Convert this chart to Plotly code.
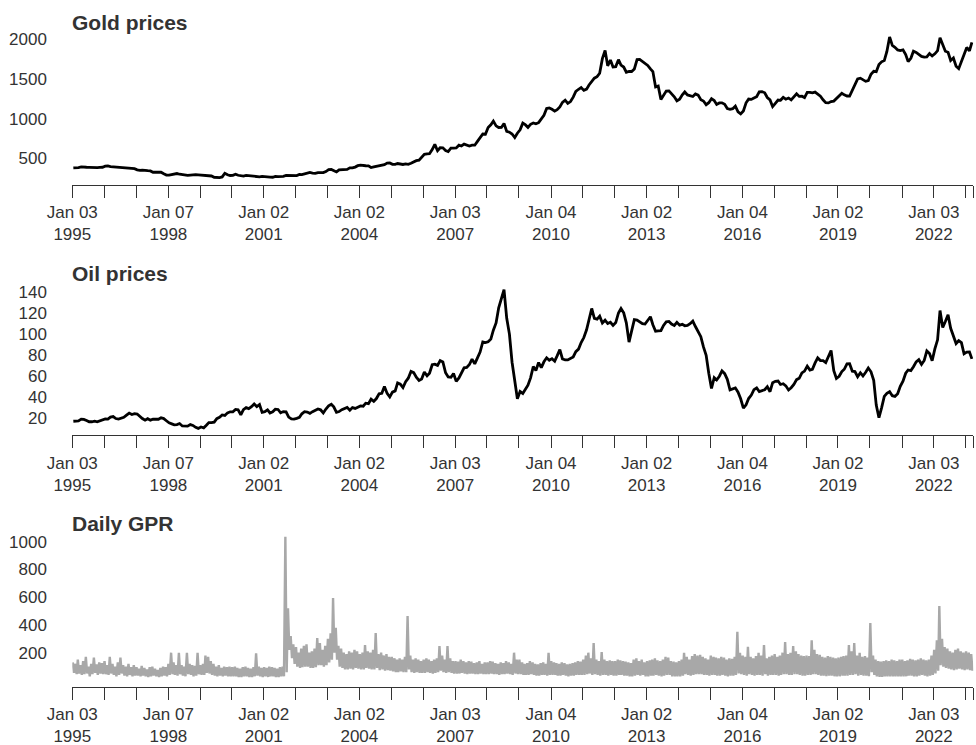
import pandas as pd
import plotly.graph_objects as go

# ---------------------------------------------------------------------------
# Monthly series, Jan 1995 - Mar 2023
# ---------------------------------------------------------------------------
start_month = "1995-01-01"

gold = [
    379, 377, 382, 391, 385, 387, 386, 383, 383, 383, 386, 387,   # 1995
    400, 405, 396, 393, 392, 385, 383, 387, 383, 381, 378, 369,   # 1996
    355, 347, 352, 344, 344, 341, 324, 324, 323, 325, 306, 289,   # 1997
    289, 297, 296, 308, 299, 292, 293, 284, 289, 296, 294, 291,   # 1998
    287, 288, 286, 282, 277, 261, 256, 257, 265, 311, 293, 283,   # 1999
    285, 300, 286, 280, 275, 285, 282, 274, 273, 270, 266, 272,   # 2000
    266, 262, 263, 261, 272, 270, 268, 273, 283, 283, 276, 276,   # 2001
    282, 296, 294, 303, 314, 322, 314, 310, 319, 317, 319, 333,   # 2002
    357, 359, 340, 328, 355, 356, 351, 360, 379, 379, 389, 407,   # 2003
    414, 405, 406, 404, 384, 392, 398, 400, 406, 420, 439, 442,   # 2004
    424, 424, 434, 429, 422, 430, 424, 437, 456, 470, 476, 510,   # 2005
    549, 555, 557, 610, 676, 596, 633, 632, 598, 585, 627, 629,   # 2006
    631, 665, 655, 679, 667, 655, 665, 665, 713, 754, 806, 803,   # 2007
    889, 922, 968, 909, 888, 889, 939, 839, 829, 806, 761, 816,   # 2008
    858, 943, 924, 890, 928, 946, 934, 949, 996, 1043, 1127, 1135,  # 2009
    1118, 1095, 1113, 1148, 1205, 1233, 1193, 1215, 1271, 1343, 1370, 1391,  # 2010
    1356, 1372, 1424, 1473, 1510, 1529, 1572, 1756, 1860, 1665, 1739, 1652,  # 2011
    1656, 1743, 1674, 1650, 1585, 1596, 1594, 1626, 1744, 1747, 1721, 1688,  # 2012
    1671, 1627, 1593, 1400, 1410, 1240, 1286, 1347, 1349, 1316, 1275, 1225,  # 2013
    1244, 1300, 1336, 1299, 1287, 1279, 1311, 1296, 1239, 1222, 1176, 1201,  # 2014
    1251, 1227, 1179, 1198, 1199, 1181, 1128, 1117, 1125, 1157, 1086, 1060,  # 2015
    1097, 1200, 1246, 1242, 1260, 1276, 1337, 1341, 1326, 1266, 1236, 1151,  # 2016
    1192, 1234, 1231, 1267, 1245, 1260, 1236, 1283, 1314, 1280, 1283, 1265,  # 2017
    1331, 1331, 1325, 1334, 1303, 1282, 1238, 1202, 1198, 1215, 1221, 1250,  # 2018
    1291, 1320, 1300, 1285, 1284, 1359, 1413, 1500, 1510, 1495, 1470, 1480,  # 2019
    1560, 1597, 1591, 1683, 1716, 1732, 1847, 2030, 1922, 1900, 1866, 1858,  # 2020
    1867, 1808, 1718, 1760, 1850, 1834, 1807, 1785, 1776, 1777, 1821, 1790,  # 2021
    1817, 1856, 2020, 1937, 1849, 1837, 1733, 1764, 1660, 1630, 1726, 1798,  # 2022
    1898, 1855, 1960,                                                        # 2023
]

oil = [
    16.6, 17.0, 17.0, 18.6, 18.4, 17.3, 16.1, 16.1, 16.6, 16.0, 17.0, 17.9,   # 1995
    18.9, 18.6, 20.5, 21.1, 19.2, 18.6, 19.7, 20.3, 22.4, 24.4, 23.0, 23.8,   # 1996
    23.5, 20.9, 19.2, 17.6, 19.0, 17.6, 18.5, 18.6, 18.5, 19.9, 19.1, 17.1,   # 1997
    15.1, 14.1, 13.2, 13.4, 14.4, 12.1, 12.0, 11.9, 13.4, 12.6, 10.8, 9.8,    # 1998
    11.1, 10.3, 12.5, 15.3, 15.3, 15.7, 19.1, 20.3, 22.6, 22.1, 24.6, 25.6,   # 1999
    25.5, 27.8, 27.5, 22.8, 27.6, 29.6, 28.6, 30.4, 33.1, 30.6, 32.5, 25.0,   # 2000
    25.7, 27.4, 24.5, 25.6, 28.1, 27.8, 24.6, 25.8, 25.6, 20.5, 18.8, 18.7,   # 2001
    19.4, 20.3, 23.7, 25.7, 25.4, 24.1, 25.7, 26.7, 28.3, 27.5, 24.5, 28.2,   # 2002
    31.2, 32.8, 30.3, 25.0, 25.8, 27.6, 28.4, 29.8, 27.1, 29.6, 28.8, 29.8,   # 2003
    31.2, 30.9, 33.8, 33.4, 37.6, 35.5, 38.2, 42.7, 43.2, 49.8, 43.1, 39.7,   # 2004
    44.3, 45.5, 53.1, 51.9, 48.7, 54.3, 57.6, 64.1, 62.9, 58.5, 55.5, 56.8,   # 2005
    63.5, 59.9, 62.3, 70.4, 70.9, 69.8, 74.4, 73.0, 62.8, 58.7, 58.5, 62.0,   # 2006
    54.6, 57.8, 62.4, 67.5, 67.9, 70.6, 75.8, 71.2, 77.0, 82.5, 92.1, 91.5,   # 2007
    92.2, 94.8, 103.3, 110.2, 124.6, 133.5, 142.0, 114.6, 99.6, 72.8, 53.2, 38.0,  # 2008
    44.9, 43.1, 46.8, 50.9, 57.9, 68.6, 64.9, 72.5, 67.7, 73.2, 77.0, 74.7,   # 2009
    76.2, 73.8, 78.8, 84.8, 75.9, 75.0, 75.0, 76.7, 77.8, 82.9, 85.3, 91.5,   # 2010
    96.3, 103.7, 114.6, 124.0, 114.5, 113.9, 116.7, 110.1, 112.8, 109.6, 110.8, 107.9,  # 2011
    110.6, 119.7, 124.0, 119.8, 110.3, 92.0, 102.6, 113.4, 113.0, 111.5, 109.5, 109.2,  # 2012
    112.3, 116.1, 108.5, 102.3, 102.6, 102.9, 107.9, 111.3, 111.6, 109.1, 107.8, 110.8,  # 2013
    108.1, 108.9, 107.5, 107.8, 109.5, 111.9, 106.8, 101.6, 97.1, 87.4, 79.4, 62.3,   # 2014
    47.8, 58.1, 55.9, 59.5, 64.6, 61.9, 56.5, 46.5, 47.6, 48.4, 44.3, 38.0,   # 2015
    29.0, 32.2, 38.2, 41.6, 46.7, 48.3, 44.9, 45.8, 46.6, 49.5, 44.7, 53.3,   # 2016
    54.6, 54.9, 51.6, 52.3, 50.3, 46.4, 48.5, 51.7, 56.2, 57.5, 62.7, 64.4,   # 2017
    69.1, 65.3, 66.0, 72.1, 76.9, 74.4, 74.3, 72.5, 78.9, 84.0, 64.8, 57.4,   # 2018
    59.4, 63.9, 66.1, 71.2, 71.3, 64.2, 63.9, 59.0, 62.8, 59.7, 63.2, 67.3,   # 2019
    63.7, 55.5, 32.0, 20.0, 29.4, 40.3, 43.2, 44.7, 40.9, 40.2, 42.7, 49.9,   # 2020
    54.8, 62.3, 65.4, 64.8, 68.5, 73.2, 75.2, 70.8, 74.5, 83.5, 81.0, 74.2,   # 2021
    85.5, 94.1, 122.0, 105.8, 111.6, 118.0, 105.1, 97.7, 90.6, 93.3, 91.4, 80.9,  # 2022
    82.5, 82.6, 76.0,                                                         # 2023
]

# Daily GPR index summarised per month as (high, low) of the daily readings
gpr_high = [
    130, 120, 150, 110, 140, 170, 100, 120, 165, 115, 130, 125,   # 1995
    140, 110, 170, 120, 100, 130, 165, 110, 100, 120, 95, 110,    # 1996
    95, 85, 105, 90, 80, 95, 100, 85, 75, 90, 100, 95,            # 1997
    120, 200, 130, 110, 200, 110, 100, 200, 120, 110, 105, 200,   # 1998
    110, 120, 180, 170, 140, 120, 100, 110, 90, 100, 95, 100,     # 1999
    95, 100, 90, 85, 95, 100, 90, 85, 95, 195, 100, 90,           # 2000
    95, 90, 100, 95, 90, 85, 95, 100, 1035, 520, 320, 260,        # 2001
    240, 200, 230, 250, 260, 200, 210, 230, 306, 270, 220, 250,   # 2002
    300, 340, 594, 380, 250, 230, 200, 190, 210, 200, 220, 210,   # 2003
    190, 200, 255, 210, 200, 220, 342, 190, 200, 180, 190, 170,   # 2004
    170, 160, 150, 160, 150, 170, 464, 180, 150, 160, 150, 140,   # 2005
    150, 160, 150, 140, 150, 160, 248, 180, 150, 248, 160, 140,   # 2006
    140, 135, 150, 140, 130, 140, 135, 125, 130, 140, 120, 130,   # 2007
    130, 140, 135, 125, 120, 130, 125, 140, 130, 120, 200, 150,   # 2008
    150, 130, 120, 125, 140, 130, 120, 115, 125, 130, 120, 200,   # 2009
    140, 130, 125, 120, 130, 125, 115, 120, 125, 130, 140, 135,   # 2010
    150, 180, 200, 160, 270, 150, 140, 205, 150, 140, 145, 140,   # 2011
    140, 150, 145, 140, 135, 130, 125, 150, 160, 140, 150, 130,   # 2012
    140, 145, 150, 160, 145, 140, 150, 170, 165, 140, 135, 130,   # 2013
    140, 150, 200, 170, 150, 175, 190, 180, 185, 170, 160, 150,   # 2014
    180, 170, 165, 160, 170, 165, 150, 160, 155, 170, 351, 200,   # 2015
    180, 170, 243, 170, 160, 175, 200, 180, 255, 160, 170, 180,   # 2016
    190, 170, 180, 200, 277, 190, 200, 248, 210, 190, 180, 175,   # 2017
    180, 175, 290, 220, 190, 185, 170, 165, 175, 170, 165, 160,   # 2018
    165, 170, 175, 180, 255, 210, 270, 180, 200, 170, 175, 165,   # 2019
    413, 180, 150, 140, 135, 140, 145, 140, 150, 145, 140, 150,   # 2020
    150, 140, 145, 155, 150, 145, 150, 160, 150, 145, 150, 180,   # 2021
    220, 290, 536, 300, 240, 230, 210, 200, 220, 230, 210, 200,   # 2022
    210, 200, 190,                                                # 2023
]

gpr_low = [
    55, 45, 50, 40, 45, 50, 30, 45, 55, 40, 50, 45,               # 1995
    45, 40, 50, 40, 30, 40, 50, 35, 30, 40, 30, 35,               # 1996
    35, 30, 35, 30, 25, 30, 35, 30, 25, 30, 35, 30,               # 1997
    40, 45, 40, 35, 45, 35, 30, 45, 40, 30, 35, 45,               # 1998
    40, 40, 55, 50, 40, 35, 30, 35, 30, 35, 30, 30,               # 1999
    30, 30, 25, 25, 30, 30, 25, 25, 30, 35, 30, 25,               # 2000
    30, 25, 30, 30, 25, 25, 30, 30, 60, 220, 160, 120,            # 2001
    100, 90, 95, 100, 100, 90, 90, 95, 110, 110, 100, 110,        # 2002
    130, 150, 200, 150, 100, 90, 80, 80, 85, 80, 90, 85,          # 2003
    80, 80, 90, 85, 80, 80, 90, 75, 80, 70, 75, 70,               # 2004
    65, 60, 60, 65, 60, 60, 80, 60, 55, 60, 55, 55,               # 2005
    55, 60, 55, 50, 55, 60, 70, 60, 55, 60, 55, 50,               # 2006
    50, 50, 55, 50, 45, 50, 50, 45, 45, 50, 45, 45,               # 2007
    45, 50, 45, 45, 40, 45, 45, 50, 45, 40, 50, 45,               # 2008
    45, 40, 40, 40, 45, 40, 35, 35, 40, 40, 35, 40,               # 2009
    40, 40, 35, 35, 40, 35, 30, 35, 35, 40, 40, 40,               # 2010
    40, 45, 50, 40, 45, 40, 35, 40, 40, 35, 40, 35,               # 2011
    35, 40, 40, 35, 35, 30, 30, 35, 40, 35, 40, 30,               # 2012
    30, 35, 35, 40, 35, 30, 35, 40, 40, 30, 30, 30,               # 2013
    30, 35, 45, 40, 35, 40, 45, 45, 45, 40, 40, 35,               # 2014
    40, 40, 35, 35, 40, 35, 30, 35, 35, 40, 50, 45,               # 2015
    40, 35, 45, 40, 35, 40, 40, 35, 45, 35, 40, 40,               # 2016
    40, 35, 40, 45, 45, 40, 40, 45, 45, 40, 35, 35,               # 2017
    40, 40, 45, 45, 40, 35, 35, 30, 35, 35, 30, 30,               # 2018
    30, 35, 35, 35, 40, 40, 45, 35, 40, 35, 35, 30,               # 2019
    60, 40, 30, 25, 25, 30, 30, 30, 30, 30, 30, 30,               # 2020
    30, 30, 35, 35, 30, 30, 35, 40, 35, 30, 35, 40,               # 2021
    50, 70, 110, 100, 90, 85, 80, 75, 80, 85, 80, 75,             # 2022
    80, 75, 70,                                                   # 2023
]

# Year ticks (first trading day of each year) and the last observation
tick_dates = [
    "1995-01-03", "1996-01-02", "1997-01-02", "1998-01-07", "1999-01-04",
    "2000-01-04", "2001-01-02", "2002-01-02", "2003-01-02", "2004-01-02",
    "2005-01-03", "2006-01-03", "2007-01-03", "2008-01-02", "2009-01-02",
    "2010-01-04", "2011-01-03", "2012-01-03", "2013-01-02", "2014-01-02",
    "2015-01-02", "2016-01-04", "2017-01-03", "2018-01-02", "2019-01-02",
    "2020-01-02", "2021-01-04", "2022-01-03", "2023-01-03", "2023-03-31",
]
tick_labels = [
    "Jan 03<br>1995", "", "", "Jan 07<br>1998", "",
    "", "Jan 02<br>2001", "", "", "Jan 02<br>2004",
    "", "", "Jan 03<br>2007", "", "",
    "Jan 04<br>2010", "", "", "Jan 02<br>2013", "",
    "", "Jan 04<br>2016", "", "", "Jan 02<br>2019",
    "", "", "Jan 03<br>2022", "", "",
]

gold_ticks = [500, 1000, 1500, 2000]
oil_ticks = [20, 40, 60, 80, 100, 120, 140]
gpr_ticks = [200, 400, 600, 800, 1000]

panel_titles = ["Gold prices", "Oil prices", "Daily GPR"]

# ---------------------------------------------------------------------------
n_months = len(gold)
month_starts = pd.date_range(start_month, periods=n_months, freq="MS")
mid_month = month_starts + pd.Timedelta(days=14)

# GPR drawn as daily-like swings: high early in the month, low later on
gpr_x, gpr_y = [], []
for m, hi, lo in zip(month_starts, gpr_high, gpr_low):
    gpr_x += [m + pd.Timedelta(days=6), m + pd.Timedelta(days=21)]
    gpr_y += [hi, lo]

W, H = 976, 745
FONT = "Liberation Sans, Arial, Helvetica, sans-serif"
TXT = "#333333"
x_start, x_end = "1995-01-03", "2023-03-31"
x_dom = [72.3 / W, 973.3 / W]

# (top px, bottom px, y range) for each panel
panels = [
    (30, 184.5, [169.7, 2117.0], gold_ticks),
    (280, 435.0, [3.5, 151.1], oil_ticks),
    (530, 686.7, [-45.0, 1084.3], gpr_ticks),
]
title_y = [22, 273, 523]

fig = go.Figure()
fig.add_trace(go.Scatter(x=mid_month, y=gold, mode="lines",
                         line=dict(color="black", width=2.8), xaxis="x", yaxis="y"))
fig.add_trace(go.Scatter(x=mid_month, y=oil, mode="lines",
                         line=dict(color="black", width=2.8), xaxis="x2", yaxis="y2"))
fig.add_trace(go.Scatter(x=gpr_x, y=gpr_y, mode="lines",
                         line=dict(color="#a8a8a8", width=2.4), xaxis="x3", yaxis="y3"))

layout = dict(
    width=W, height=H, margin=dict(l=0, r=0, t=0, b=0, autoexpand=False),
    paper_bgcolor="white", plot_bgcolor="white", showlegend=False,
    font=dict(family=FONT, color=TXT, size=17),
)
annotations = []
for i, (top, bot, yr, yt) in enumerate(panels):
    sfx = "" if i == 0 else str(i + 1)
    layout["xaxis" + sfx] = dict(
        domain=x_dom, range=[x_start, x_end], type="date", automargin=False,
        anchor="y" + sfx, showline=True, linecolor=TXT, linewidth=1.3,
        ticks="outside", ticklen=12, tickwidth=1.3, tickcolor=TXT,
        tickmode="array", tickvals=tick_dates, ticktext=tick_labels,
        tickfont=dict(family=FONT, size=17, color=TXT),
        showgrid=False, zeroline=False, fixedrange=True,
    )
    layout["yaxis" + sfx] = dict(
        domain=[1 - bot / H, 1 - top / H], range=yr, automargin=False,
        anchor="x" + sfx, showline=False, showgrid=False, zeroline=False,
        ticks="outside", ticklen=21, tickcolor="rgba(0,0,0,0)",
        tickmode="array", tickvals=yt,
        tickfont=dict(family=FONT, size=17, color=TXT),
    )
    annotations.append(dict(
        text="<b>" + panel_titles[i] + "</b>", xref="paper", yref="paper",
        x=70 / W, y=1 - title_y[i] / H, xanchor="left", yanchor="middle",
        showarrow=False, font=dict(family=FONT, size=21, color=TXT),
    ))
layout["annotations"] = annotations
fig.update_layout(**layout)

fig.write_html("out.html")
